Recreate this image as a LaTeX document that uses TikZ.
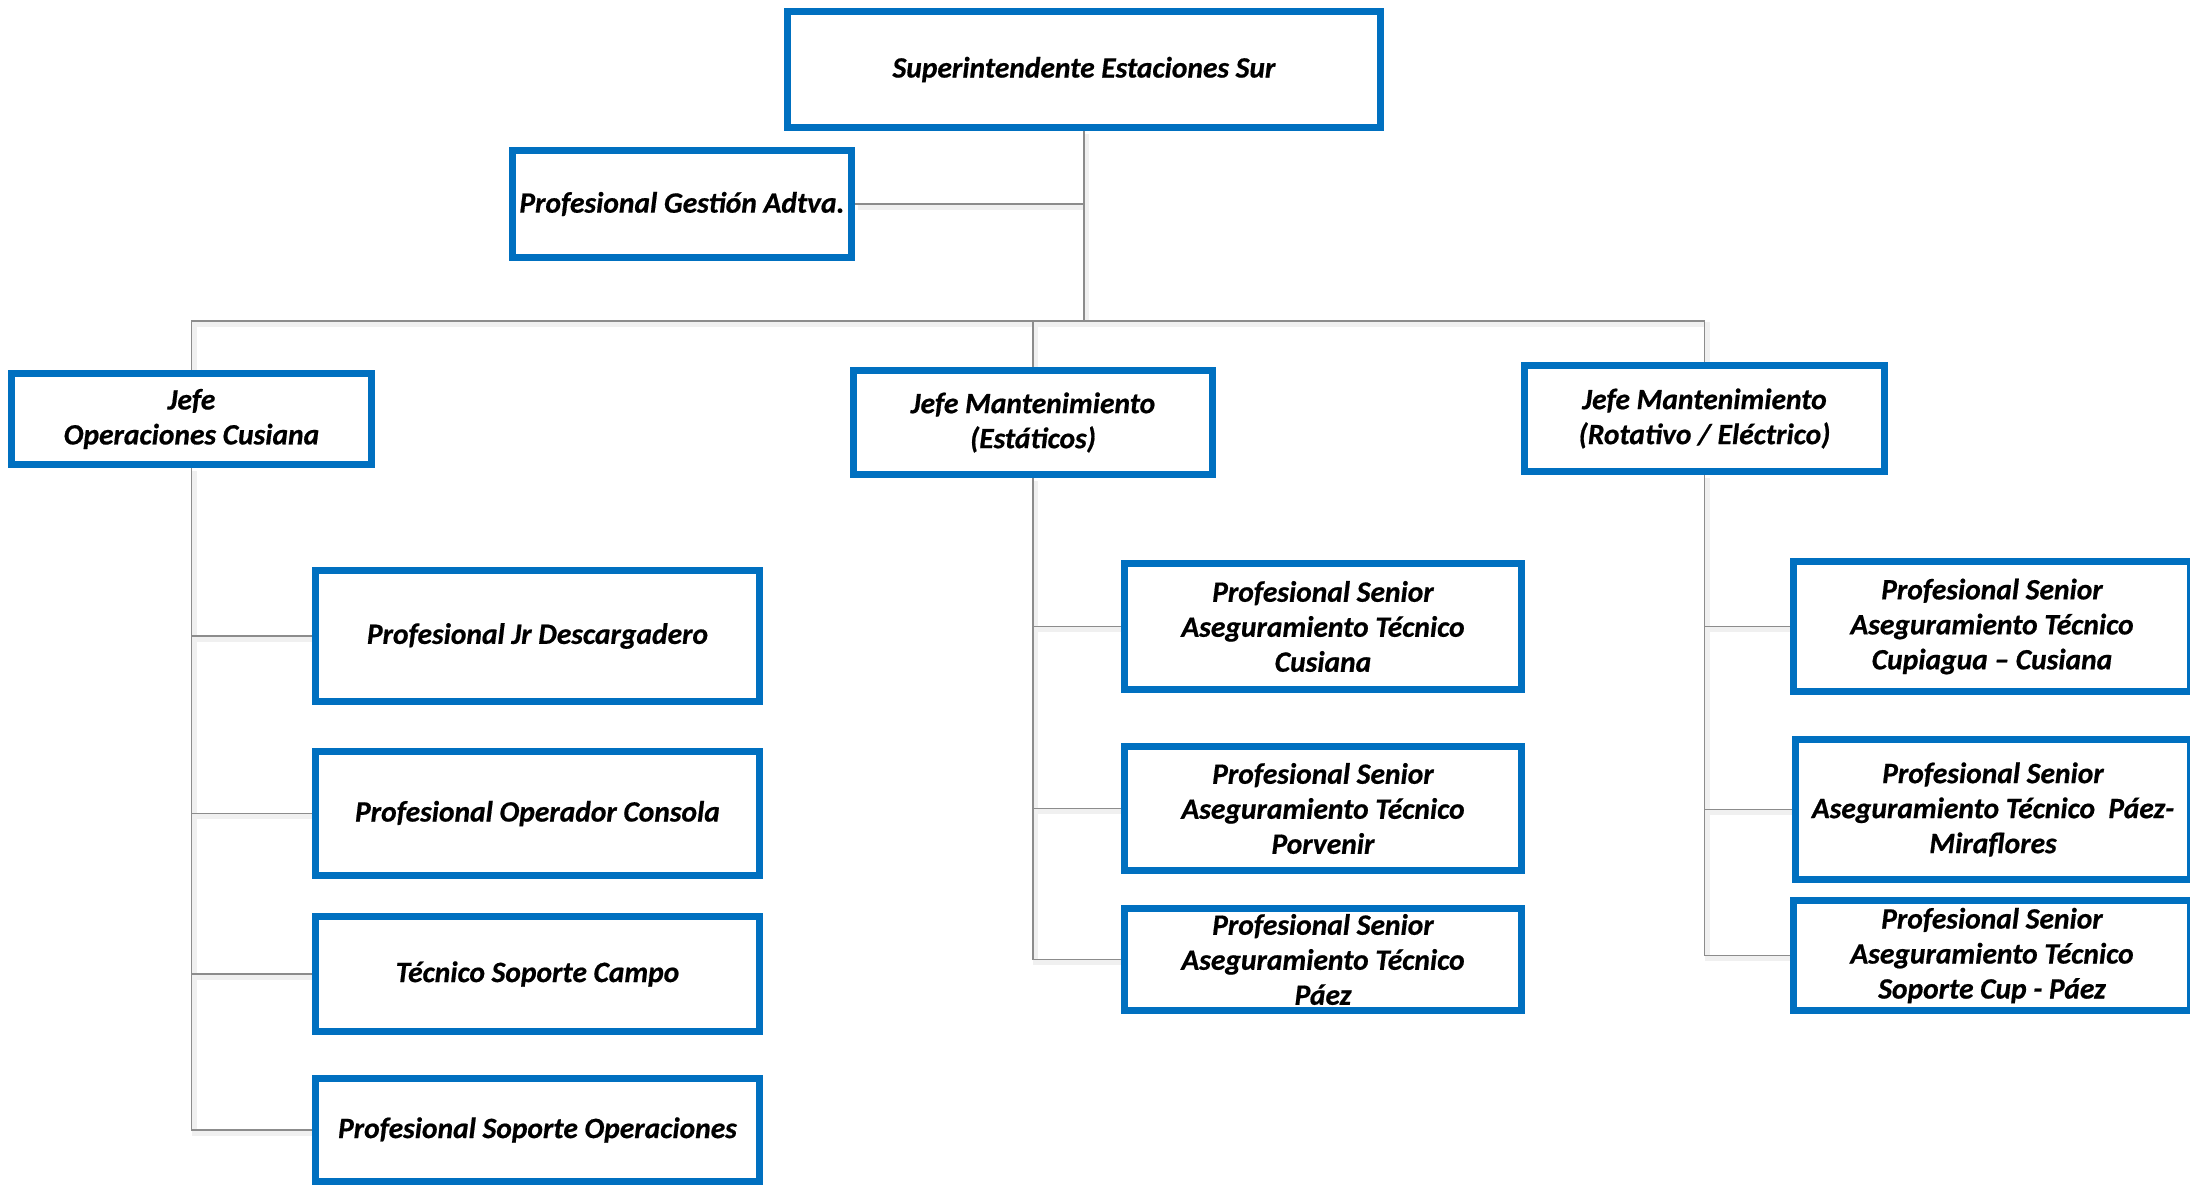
\documentclass[tikz,border=0pt]{standalone}
\usepackage{fontspec}
\setmainfont{Carlito}[BoldItalicFeatures={FakeBold=0.6}]
\usetikzlibrary{backgrounds}
\definecolor{boxblue}{HTML}{0070C0}
\definecolor{linegray}{HTML}{8C8C8C}
\tikzset{
  orgbox/.style={draw=boxblue, line width=7pt, fill=white, inner sep=0pt,
    align=center, font=\fontsize{29.5}{35}\selectfont\bfseries\itshape},
  conn/.style={draw=linegray, line width=1.6pt},
  connshadow/.style={draw=black!6, line width=5pt, transform canvas={shift={(2.5pt,-3pt)}}}
}
\begin{document}
\begin{tikzpicture}[x=1pt,y=-1pt]
\useasboundingbox (0,0) rectangle (2190,1189);
% top level
\node[orgbox, minimum width=593, minimum height=116] (sup) at (1084,69.5) {Superintendente Estaciones Sur};
\node[orgbox, minimum width=339, minimum height=107] (gest) at (682,204) {Profesional Gestión Adtva.};
% second level
\node[orgbox, minimum width=360, minimum height=91] (jops) at (191.5,419) {Jefe\\Operaciones Cusiana};
\node[orgbox, minimum width=359, minimum height=104] (jest) at (1033,422.5) {Jefe Mantenimiento\\(Estáticos)};
\node[orgbox, minimum width=360, minimum height=106] (jrot) at (1704.5,418.5) {Jefe Mantenimiento\\(Rotativo / Eléctrico)};
% left column
\node[orgbox, minimum width=444, minimum height=131] (c1) at (537.5,636) {Profesional Jr Descargadero};
\node[orgbox, minimum width=444, minimum height=124] (c2) at (537.5,813.5) {Profesional Operador Consola};
\node[orgbox, minimum width=444, minimum height=115] (c3) at (537.5,974) {Técnico Soporte Campo};
\node[orgbox, minimum width=444, minimum height=103] (c4) at (537.5,1130) {Profesional Soporte Operaciones};
% middle column
\node[orgbox, minimum width=397, minimum height=126] (m1) at (1323,626.5) {Profesional Senior\\Aseguramiento Técnico\\Cusiana};
\node[orgbox, minimum width=397, minimum height=124] (m2) at (1323,808.5) {Profesional Senior\\Aseguramiento Técnico\\Porvenir};
\node[orgbox, minimum width=397, minimum height=102] (m3) at (1323,959.5) {Profesional Senior\\Aseguramiento Técnico\\Páez};
% right column
\node[orgbox, minimum width=397, minimum height=130] (r1) at (1992,626.5) {Profesional Senior\\Aseguramiento Técnico\\Cupiagua – Cusiana};
\node[orgbox, minimum width=395, minimum height=140] (r2) at (1993,809.5) {Profesional Senior\\Aseguramiento Técnico\ \ Páez-\\Miraflores};
\node[orgbox, minimum width=397, minimum height=110] (r3) at (1992,955.5) {Profesional Senior\\Aseguramiento Técnico\\Soporte Cup - Páez};
\coordinate (bus) at (1084,321);
\begin{pgfonlayer}{background}
\foreach \s in {connshadow,conn}{
  \path[\s] (sup.south) -- (bus);
  \path[\s] (gest.east) -- (gest.east -| sup.south);
  \path[\s] (jops.north) |- (bus);
  \path[\s] (bus) -| (jrot.north);
  \path[\s] (bus -| jest.north) -- (jest.north);
  \path[\s] (jops.south) |- (c1.west);
  \path[\s] (jops.south) |- (c2.west);
  \path[\s] (jops.south) |- (c3.west);
  \path[\s] (jops.south) |- (c4.west);
  \path[\s] (jest.south) |- (m1.west);
  \path[\s] (jest.south) |- (m2.west);
  \path[\s] (jest.south) |- (m3.west);
  \path[\s] (jrot.south) |- (r1.west);
  \path[\s] (jrot.south) |- (r2.west);
  \path[\s] (jrot.south) |- (r3.west);
}
\end{pgfonlayer}
\end{tikzpicture}
\end{document}
